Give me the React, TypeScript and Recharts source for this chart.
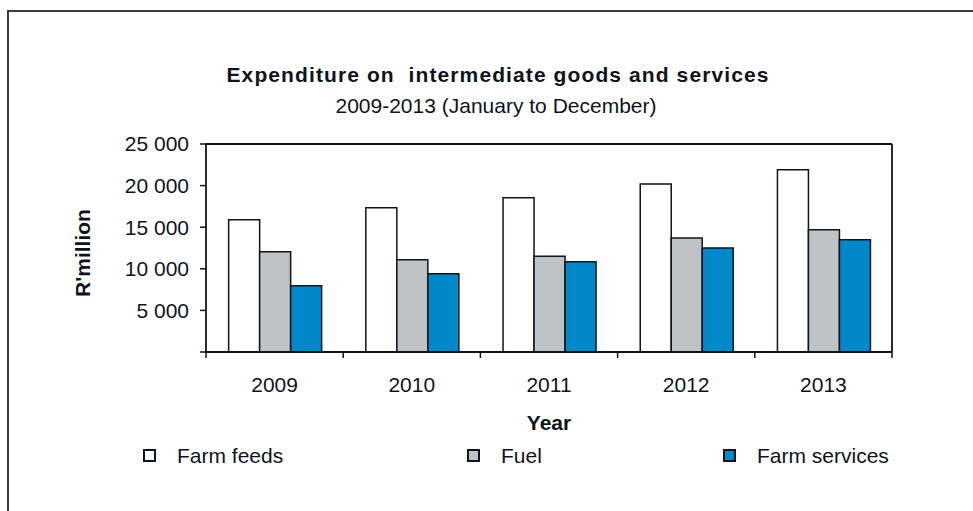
import React from "react";
import { BarChart, Bar, XAxis, YAxis, ReferenceLine } from "recharts";

const years = ["2009", "2010", "2011", "2012", "2013"];
const farmFeeds = [15900, 17350, 18550, 20200, 21900];
const fuel = [12050, 11100, 11500, 13700, 14700];
const farmServices = [7950, 9400, 10850, 12500, 13500];
const yTicks = [0, 5000, 10000, 15000, 20000, 25000];

const series = [
  { key: "feeds", name: "Farm feeds", color: "#ffffff" },
  { key: "fuel", name: "Fuel", color: "#c0c3c6" },
  { key: "services", name: "Farm services", color: "#0088c8" },
];

const data = years.map((year, i) => ({
  year,
  feeds: farmFeeds[i],
  fuel: fuel[i],
  services: farmServices[i],
}));

const FONT = "'Liberation Sans', Arial, sans-serif";
const INK = "#10131c";

const formatTick = (v: number) =>
  v === 0 ? "" : String(v).replace(/\B(?=(\d{3})+(?!\d))/g, " ");

// category ticks sit on the band edges, labels in the middle (Excel style)
const YearTick = (props: any) => {
  const { x, y, payload, index } = props;
  const half = payload?.offset ?? 68.6;
  return (
    <g>
      <line x1={x - half} x2={x - half} y1={y} y2={y + 6} stroke={INK} strokeWidth={1.5} />
      {index === years.length - 1 && (
        <line x1={x + half} x2={x + half} y1={y} y2={y + 6} stroke={INK} strokeWidth={1.5} />
      )}
      <text x={x} y={y + 39.5} textAnchor="middle" fill={INK} fontSize={21} fontFamily={FONT}>
        {payload.value}
      </text>
    </g>
  );
};

const textStyle: React.CSSProperties = {
  position: "absolute",
  fontFamily: FONT,
  color: INK,
  whiteSpace: "nowrap",
  lineHeight: 1,
  fontSize: 21,
};

export default function App() {
  return (
    <div
      style={{
        position: "absolute",
        left: 0,
        top: 0,
        width: 973,
        height: 511,
        overflow: "hidden",
        background: "#fff",
      }}
    >
      <div
        style={{
          position: "absolute",
          left: 7,
          top: 10,
          width: 2000,
          height: 2000,
          border: "2px solid #3c3c3c",
        }}
      />
      <div style={{ ...textStyle, left: 0, width: 996, top: 64, textAlign: "center", fontWeight: "bold", letterSpacing: 1.1 }}>
        Expenditure on&nbsp; intermediate goods and services
      </div>
      <div style={{ ...textStyle, left: 0, width: 992, top: 95, textAlign: "center" }}>
        2009-2013 (January to December)
      </div>
      <div
        style={{
          ...textStyle,
          left: 82,
          top: 253,
          fontWeight: "bold",
          transform: "translate(-50%, -50%) rotate(-90deg)",
        }}
      >
        R'million
      </div>
      <div style={{ ...textStyle, left: 0, width: 1098, top: 412, textAlign: "center", fontWeight: "bold" }}>
        Year
      </div>
      {series.map((s, i) => (
        <div key={s.key} style={{ ...textStyle, left: [143, 467, 723][i], top: 445, display: "flex", alignItems: "center" }}>
          <span style={{ display: "inline-block", width: 9, height: 9, background: s.color, border: `2px solid ${INK}`, marginRight: 21 }} />
          {s.name}
        </div>
      ))}
      <BarChart
        width={973}
        height={511}
        data={data}
        margin={{ top: 144, right: 80, left: 126, bottom: 119 }}
        barCategoryGap="16.5%"
        barGap={0}
        style={{ position: "absolute", left: 0, top: 0 }}
      >
        <XAxis
          dataKey="year"
          axisLine={{ stroke: INK, strokeWidth: 1.8 }}
          tickLine={false}
          tickSize={0}
          tickMargin={0}
          height={40}
          tick={<YearTick />}
          interval={0}
        />
        <YAxis
          yAxisId="left"
          domain={[0, 25000]}
          ticks={yTicks}
          width={80}
          axisLine={{ stroke: INK, strokeWidth: 1.8 }}
          tickLine={{ stroke: INK, strokeWidth: 1.5 }}
          tickSize={6}
          tickMargin={11}
          tickFormatter={formatTick}
          tick={{ fill: INK, fontSize: 21, fontFamily: FONT }}
        />
        <YAxis
          yAxisId="right"
          orientation="right"
          domain={[0, 25000]}
          width={1}
          tick={false}
          tickLine={false}
          axisLine={{ stroke: INK, strokeWidth: 1.8 }}
        />
        <ReferenceLine yAxisId="left" y={25000} stroke={INK} strokeWidth={1.8} ifOverflow="visible" />
        {series.map((s) => (
          <Bar
            key={s.key}
            yAxisId="left"
            dataKey={s.key}
            name={s.name}
            fill={s.color}
            stroke={INK}
            strokeWidth={1.5}
            isAnimationActive={false}
          />
        ))}
      </BarChart>
    </div>
  );
}
